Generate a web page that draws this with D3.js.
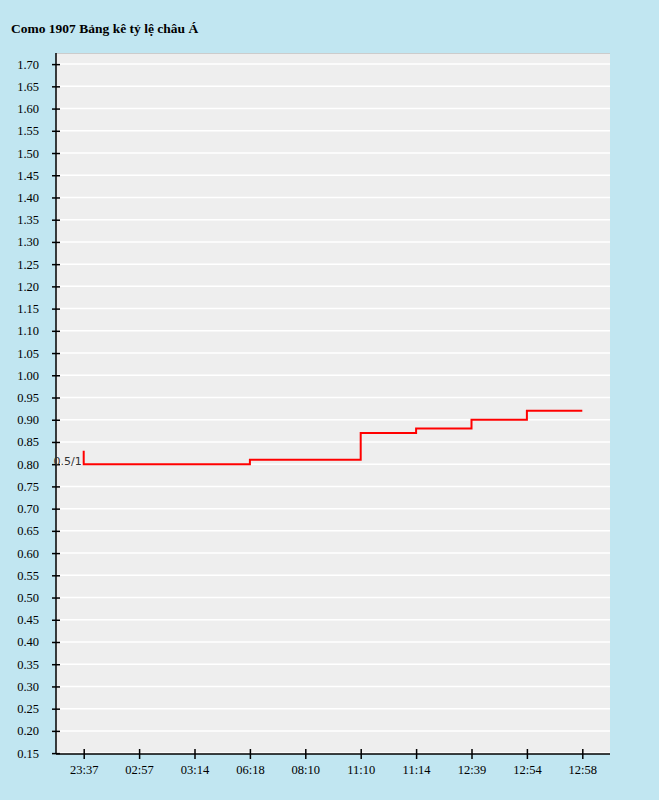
<!DOCTYPE html>
<html><head><meta charset="utf-8">
<script src="https://cdn.jsdelivr.net/npm/d3@7"></script>
<style>body{margin:0;background:#c1e6f1;}svg{display:block}</style></head>
<body><svg id="c" width="659" height="800"></svg>
<script>
const categories = ["23:37","02:57","03:14","06:18","08:10","11:10","11:14","12:39","12:54","12:58"];
const values = [0.80,0.80,0.80,0.81,0.81,0.87,0.88,0.90,0.92,0.92];
const openValue = 0.83;
const openLabel = "0.5/1";
const yTicks = d3.range(0.15, 1.7001, 0.05).map(v => +v.toFixed(2));
const title = "Como 1907 Bảng kê tỷ lệ châu Á";

const svg = d3.select("#c");
const L=56, R=610, T=53, B=754;
svg.append("text").attr("x",11).attr("y",33).attr("font-family","Liberation Serif, serif")
  .attr("font-weight","bold").attr("font-size",13.5).text(title);
svg.append("rect").attr("x",L).attr("y",T).attr("width",R-L).attr("height",B-T).attr("fill","#eeeeee");
svg.append("line").attr("x1",L).attr("x2",R).attr("y1",T+0.5).attr("y2",T+0.5).attr("stroke","#ccc");
const x = d3.scalePoint().domain(categories).range([L,R]).padding(0.5);
const y = d3.scaleLinear().domain([0.148,1.725]).range([B,T]);
svg.append("g").selectAll("line").data(yTicks).join("line")
  .attr("x1",L).attr("x2",R).attr("y1",d=>y(d)).attr("y2",d=>y(d)).attr("stroke","#fff").attr("stroke-width",1.5);
const ya = svg.append("g").attr("transform",`translate(${L},0)`)
  .call(d3.axisLeft(y).tickValues(yTicks).tickFormat(d3.format(".2f")).tickSize(4).tickSizeOuter(0));
ya.selectAll(".tick line").attr("x2",4).attr("x1",-4).attr("stroke-width",1.5);
ya.select(".domain").attr("stroke-width",1.5).attr("d",`M0,${T}V${B}`);
ya.selectAll("text").attr("x",-17).attr("font-family","Liberation Serif, serif").attr("font-size",12.5).attr("fill","#000");
const xa = svg.append("g").attr("transform",`translate(0,${B})`)
  .call(d3.axisBottom(x).tickSize(5).tickSizeOuter(0));
xa.selectAll(".tick line").attr("y1",-5).attr("y2",5).attr("stroke-width",1.5);
xa.select(".domain").attr("stroke-width",1.5).attr("d",`M${L},0H${R}`);
xa.selectAll("text").attr("y",11).attr("font-family","Liberation Serif, serif").attr("font-size",12.5).attr("fill","#000");
const pts = [[x(categories[0]),openValue]].concat(categories.map((c,i)=>[x(c),values[i]]));
svg.append("path").datum(pts).attr("fill","none").attr("stroke","#f00").attr("stroke-width",2)
  .attr("d",d3.line().x(d=>d[0]).y(d=>y(d[1])).curve(d3.curveStepAfter));
svg.append("text").attr("x",x(categories[0])-2).attr("y",y(values[0])).attr("text-anchor","end")
  .attr("font-family","DejaVu Sans, sans-serif").attr("font-size",11).attr("fill","#333").attr("dy","0.1em").text(openLabel);
</script></body></html>
